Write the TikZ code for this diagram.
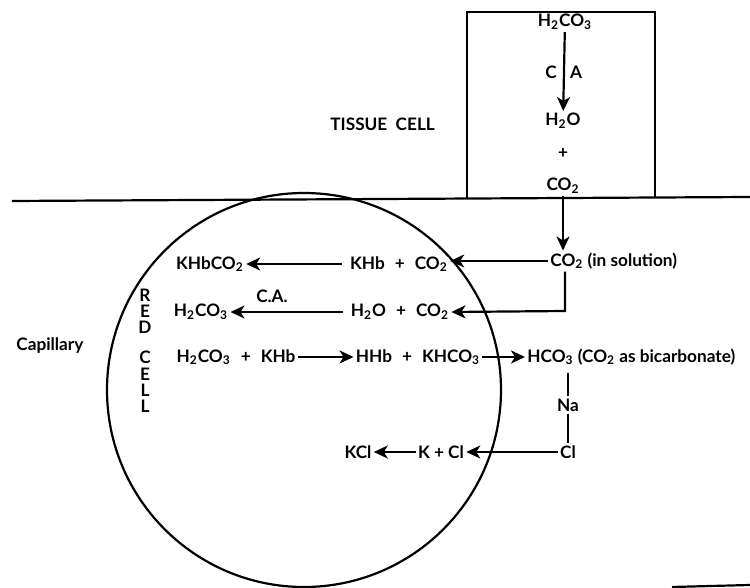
\documentclass[tikz,border=0pt]{standalone}
\usepackage{fontspec}
\setmainfont{Lato}
\usetikzlibrary{arrows.meta}
\newcommand{\chsub}[1]{\textsubscript{#1}}
\newcommand{\chplus}{\hspace{5pt}+\hspace{5pt}}
\tikzset{
  chem/.style={font=\fontsize{8.6}{10}\selectfont\bfseries, inner sep=1pt},
  redletter/.style={chem, inner sep=0pt, text height=6pt, text depth=0pt},
  react/.style={-{Stealth[length=7pt,width=6.5pt,inset=2pt]}, line width=1.1pt},
  link/.style={line width=1.1pt},
  wall/.style={line width=1.1pt},
}

\begin{document}
\begin{tikzpicture}[x=0.5pt,y=-0.5pt]
  \useasboundingbox (0,0) rectangle (750,588);
  % --- capillary wall, tissue cell and red cell outlines ---
  \draw[wall] (12,201) -- (750,197);
  \draw[wall] (467,199) -- (467,12) -- (655,12) -- (655,198);
  \draw[wall] (672,587) -- (750,585);
  \draw[wall] (304,390) circle[radius=98.5pt];

  % --- tissue cell: carbonic acid broken down ---
  \node[chem] (tcacid) at (565,22) {H\chsub{2}CO\chsub{3}};
  \node[chem] (tcwater) at (563,121) {H\chsub{2}O};
  \node[chem] (tcplus) at (563,153) {+};
  \node[chem] (tcco) at (563,186) {CO\chsub{2}};
  \draw[react] (tcacid) -- (tcwater);
  \node[chem] (tcC) at (551,72) {C};
  \node[chem] (tcA) at (576,72) {A};
  \node[chem, anchor=west] (tissue) at (328,124) {TISSUE\ \ CELL};

  % --- side labels ---
  \node[chem, anchor=west] (capil) at (14,346) {Capillary};
  \foreach \ltr/\y in {R/296, E/312, D/328, C/358, E/374, L/390, L/406}
    \node[redletter] (red\y) at (145,\y) {\ltr};

  % --- CO2 into plasma ---
  \node[chem, anchor=west] (sol) at (548,261) {CO\chsub{2} (in solution)};
  \draw[react] (tcco) -- (tcco |- sol.north);

  % --- row 1: carbamino ---
  \node[chem] (khbco) at (210,264) {KHbCO\chsub{2}};
  \node[chem] (khb) at (399,264) {KHb\chplus CO\chsub{2}};
  \draw[react, shorten <=3pt] (khb.west) -- (khbco.east);
  \draw[react] (sol.west) -- (sol.west -| khb.east);

  % --- row 2: hydration by C.A. ---
  \node[chem] (rcacid) at (201,312) {H\chsub{2}CO\chsub{3}};
  \node[chem] (rcwater) at (400,312) {H\chsub{2}O\chplus CO\chsub{2}};
  \node[chem] (rcca) at (272,296) {C.A.};
  \draw[react, shorten <=3pt] (rcwater.west) -- (rcacid.east);
  \coordinate (bend) at (565,311);
  \draw[react] (sol.south -| bend) -- (bend) -- (rcwater.east);

  % --- row 3: buffering and bicarbonate ---
  \node[chem] (buffa) at (236,357) {H\chsub{2}CO\chsub{3}\chplus KHb};
  \node[chem] (buffb) at (418,357) {HHb\chplus KHCO\chsub{3}};
  \node[chem, anchor=west] (bicarb) at (525,357) {HCO\chsub{3} (CO\chsub{2} as bicarbonate)};
  \draw[react] (buffa.east) -- (buffb.west);
  \draw[react] (buffb.east) -- (bicarb.west);

  % --- chloride shift ---
  \node[chem] (na) at (568,405) {Na};
  \node[chem] (clout) at (568,452) {Cl};
  \draw[link] (na |- bicarb.south) ++(0,5) -- (na.north);
  \draw[link] (na.south) -- (clout.north);
  \node[chem] (kcl) at (358,452) {KCl};
  \node[chem] (kcli) at (441,452) {K\ +\ Cl};
  \draw[react] (kcli.west) -- (kcl.east);
  \draw[react] (clout.west) -- (kcli.east);
\end{tikzpicture}
\end{document}
